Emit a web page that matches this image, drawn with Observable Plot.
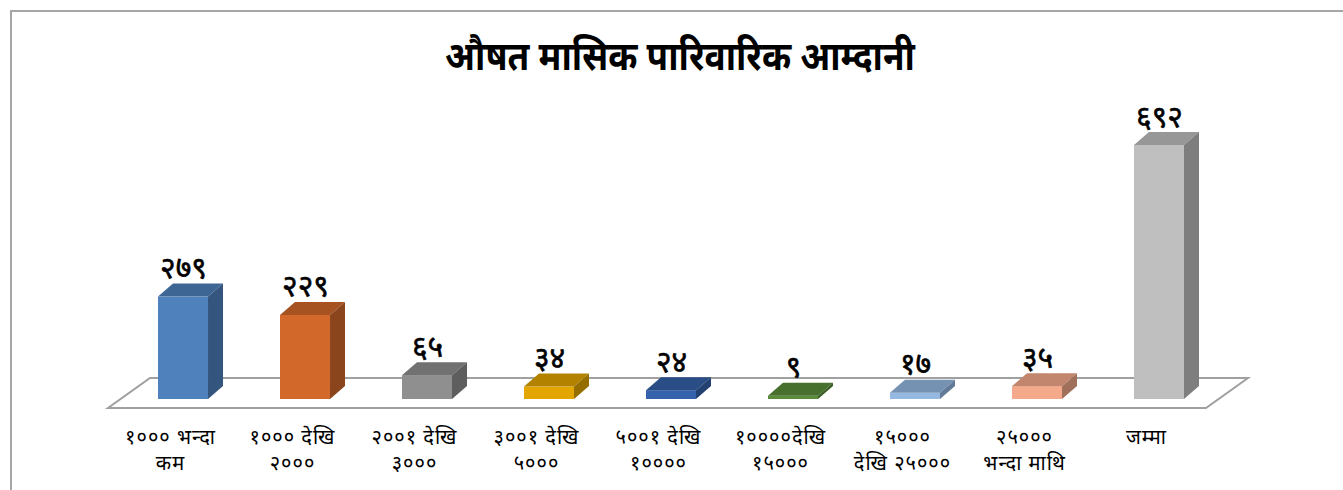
<!DOCTYPE html>
<html>
<head>
<meta charset="utf-8">
<script src="https://cdn.jsdelivr.net/npm/d3@7"></script>
<script src="https://cdn.jsdelivr.net/npm/@observablehq/plot@0.6"></script>
<style>
  html, body { margin: 0; padding: 0; background: #fff; }
  body { width: 1343px; height: 490px; overflow: hidden; position: relative;
         font-family: "Noto Sans Devanagari", "Noto Sans", sans-serif; }
  #frame { position: absolute; left: 10px; top: 10px; width: 1400px; height: 600px;
           border-top: 2px solid #a6a6a6; border-left: 2px solid #a6a6a6; z-index: 2; pointer-events: none; }
  #title { position: absolute; left: 0; top: 35px; width: 1360px; text-align: center;
           font-weight: bold; font-size: 40px; line-height: 50px; color: #000;
           transform: scaleX(0.88); transform-origin: 680px 0; }
  #chart { position: absolute; left: 0; top: 95px; }
</style>
</head>
<body>
<div id="frame"></div>
<div id="title">औषत मासिक पारिवारिक आम्दानी</div>
<div id="chart"></div>
<script>
// ---- data ----
const categories = [
  "१००० भन्दा\nकम",
  "१००० देखि\n२०००",
  "२००१ देखि\n३०००",
  "३००१ देखि\n५०००",
  "५००१ देखि\n१००००",
  "१००००देखि\n१५०००",
  "१५०००\nदेखि २५०००",
  "२५०००\nभन्दा माथि",
  "जम्मा"
];
const values = [279, 229, 65, 34, 24, 9, 17, 35, 692];
const valueLabels = ["२७९", "२२९", "६५", "३४", "२४", "९", "१७", "३५", "६९२"];
const palette = ["#4f81bd", "#d2692a", "#8f8f8f", "#e3a600", "#3562aa", "#5a8d3a", "#95b9e3", "#f4a98a", "#bfbfbf"];

const data = categories.map((c, i) => ({cat: c, value: values[i], label: valueLabels[i]}));

// ---- 3D styling (pixels) ----
const DX = 15, DY = -13;          // bar depth offset
const FLOOR_FRONT = 9, FLOOR_BACK = -21, FLOOR_SHIFT = -14, FLOOR_DX = 42;

const fontFamily = '"Noto Sans Devanagari", "Noto Sans", sans-serif';

function bandInfo(sx) {
  const bw = typeof sx.bandwidth === "function" ? sx.bandwidth() : sx.bandwidth;
  const st = typeof sx.step === "function" ? sx.step() : sx.step;
  return {bw, st};
}

// floor plate
const floor = (index, scales, vals, dimensions) => {
  const sx = scales.x, sy = scales.y;
  const {bw, st} = bandInfo(sx);
  const pad = (st - bw) / 2;
  const x0 = sx(categories[0]) - pad + FLOOR_SHIFT;
  const x1 = sx(categories[categories.length - 1]) + bw + pad + FLOOR_SHIFT;
  const yf = sy(0) + FLOOR_FRONT, yb = sy(0) + FLOOR_BACK;
  const dx = FLOOR_DX;
  const g = d3.create("svg:g");
  g.append("polygon")
    .attr("points", [[x0, yf], [x1, yf], [x1 + dx, yb], [x0 + dx, yb]].map(p => p.join(",")).join(" "))
    .attr("fill", "#fff").attr("stroke", "#a0a0a0").attr("stroke-width", 2).attr("stroke-linejoin", "miter");
  return g.node();
};

const bars = Plot.barY(data, {
  x: "cat", y: "value", fill: "cat", inset: 0,
  render(index, scales, vals, dimensions, context, next) {
    const g = next(index, scales, vals, dimensions, context);
    const sx = scales.x, sy = scales.y;
    const {bw} = bandInfo(sx);
    const sel = d3.select(g);
    for (const i of index) {
      const d = data[i];
      const xl = sx(d.cat), xr = xl + bw;
      const yt = sy(d.value), yb = sy(0);
      const c = d3.rgb(palette[i]);
      const topC = d3.rgb(c.r * 0.79, c.g * 0.79, c.b * 0.79).formatHex();
      const sideC = d3.rgb(c.r * 0.66, c.g * 0.66, c.b * 0.66).formatHex();
      sel.append("polygon")
        .attr("points", [[xl, yt], [xl + DX, yt + DY], [xr + DX, yt + DY], [xr, yt]].map(p => p.join(",")).join(" "))
        .attr("fill", topC);
      sel.append("polygon")
        .attr("points", [[xr, yt], [xr + DX, yt + DY], [xr + DX, yb + DY], [xr, yb]].map(p => p.join(",")).join(" "))
        .attr("fill", sideC);
    }
    return g;
  }
});

const chart = Plot.plot({
  width: 1343,
  height: 395,
  marginTop: 50,
  marginBottom: 91,
  style: {background: "transparent", fontFamily},
  x: {domain: categories, range: [158, 1184], paddingInner: 0.59, paddingOuter: 0, round: false, axis: null},
  y: {domain: [0, 692], nice: false, axis: null},
  color: {domain: categories, range: palette},
  marks: [
    floor,
    bars,
    Plot.text(data, {
      x: "cat", y: "value", text: "label",
      dy: -19, lineAnchor: "bottom",
      fontSize: 30, fontWeight: "normal", fill: "#000", stroke: "#000", strokeWidth: 0.6,
      fontFamily
    }),
    Plot.text(data, {
      x: "cat", y: () => 0, text: "cat",
      dx: -13, dy: 26, lineAnchor: "top", lineHeight: 1.3,
      fontSize: 20, fill: "#000", fontFamily
    })
  ]
});
// letter spacing for category labels
d3.select(chart).selectAll("g[aria-label='text']").filter((d, i) => i === 1).attr("letter-spacing", "1px");
document.getElementById("chart").appendChild(chart);
</script>
</body>
</html>
